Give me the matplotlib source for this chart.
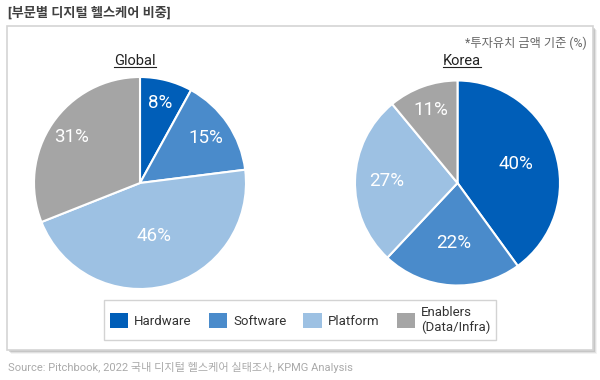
import matplotlib
matplotlib.use("Agg")
import matplotlib.pyplot as plt
from matplotlib.patches import Rectangle, Patch
from matplotlib.lines import Line2D
import numpy as np

plt.rcParams['font.family'] = ['Roboto', 'Noto Sans CJK KR', 'DejaVu Sans']

# data
categories = ['Hardware', 'Software', 'Platform', 'Enablers\n(Data/Infra)']
global_share = [8, 15, 46, 31]
korea_share = [40, 22, 27, 11]
colors = ['#005EB8', '#4A8BCB', '#9DC1E3', '#A5A5A5']

W, H = 600, 380
fig = plt.figure(figsize=(6, 3.8), dpi=100)


def fx(x):
    return x / W


def fy(y):
    return 1 - y / H


# outer box with soft shadow
for off, a in [(4, 0.10), (3, 0.18), (2, 0.30)]:
    fig.patches.append(Rectangle((fx(7 + off), fy(350 + off)), fx(586), 324 / H,
                                 transform=fig.transFigure, facecolor='#8c8c8c',
                                 edgecolor='none', alpha=a, zorder=-3))
fig.patches.append(Rectangle((fx(7), fy(350)), fx(586), 324 / H,
                             transform=fig.transFigure, facecolor='white',
                             edgecolor='#d4d4d4', lw=1.2, zorder=-2))

fig.text(fx(8), fy(13), '[부문별 디지털 헬스케어 비중]', fontsize=9.5,
         color='#404040', va='center', ha='left', fontweight='bold')
fig.text(fx(587), fy(43), '*투자유치 금액 기준 (%)', fontsize=8.8,
         color='#666666', va='center', ha='right')
fig.text(fx(8), fy(367), 'Source: Pitchbook, 2022 국내 디지털 헬스케어 실태조사, KPMG Analysis',
         fontsize=8, color='#aaaaaa', va='center', ha='left')


def draw_pie(cx, cy, r, values, title, tx, dists):
    ax = fig.add_axes([fx(cx - r), fy(cy + r), 2 * r / W, 2 * r / H])
    ax.patch.set_visible(False)
    wedges, _ = ax.pie(values, colors=colors, startangle=90, counterclock=False,
                       wedgeprops=dict(edgecolor='white', linewidth=1.5))
    for w, v, d in zip(wedges, values, dists):
        ang = np.deg2rad((w.theta1 + w.theta2) / 2)
        ax.text(d * np.cos(ang), d * np.sin(ang), f'{v}%', ha='center',
                va='center', color='white', fontsize=13.5)
    ax.set_xlim(-1, 1)
    ax.set_ylim(-1, 1)
    ax.set_aspect('equal')
    t = fig.text(fx(tx), fy(61), title, ha='center', va='center',
                 fontsize=10.5, color='#222222')
    return wedges, t


wg, t1 = draw_pie(140, 183, 106, global_share, 'Global', 135, [0.78, 0.75, 0.52, 0.78])
_, t2 = draw_pie(457.5, 183, 102.5, korea_share, 'Korea', 462, [0.6, 0.59, 0.69, 0.76])

# underline the titles
fig.canvas.draw()
r = fig.canvas.get_renderer()
for t in (t1, t2):
    bb = t.get_window_extent(r).transformed(fig.transFigure.inverted())
    fig.lines.append(Line2D([bb.x0, bb.x1], [bb.y0 + 0.002, bb.y0 + 0.002],
                            transform=fig.transFigure, color='#222222', lw=0.8))

handles = [Patch(facecolor=c, edgecolor='none') for c in colors]
leg = fig.legend(handles, categories, loc='center', bbox_to_anchor=(fx(300), fy(320)),
                 ncol=4, frameon=True, fancybox=False, edgecolor='#c8c8c8',
                 fontsize=9.5, handlelength=1.4, handleheight=1.4,
                 handletextpad=0.45, columnspacing=1.3, borderpad=0.45,
                 labelcolor='#333333')
leg.get_frame().set_linewidth(1.0)

fig.savefig('out.png', dpi=100)
